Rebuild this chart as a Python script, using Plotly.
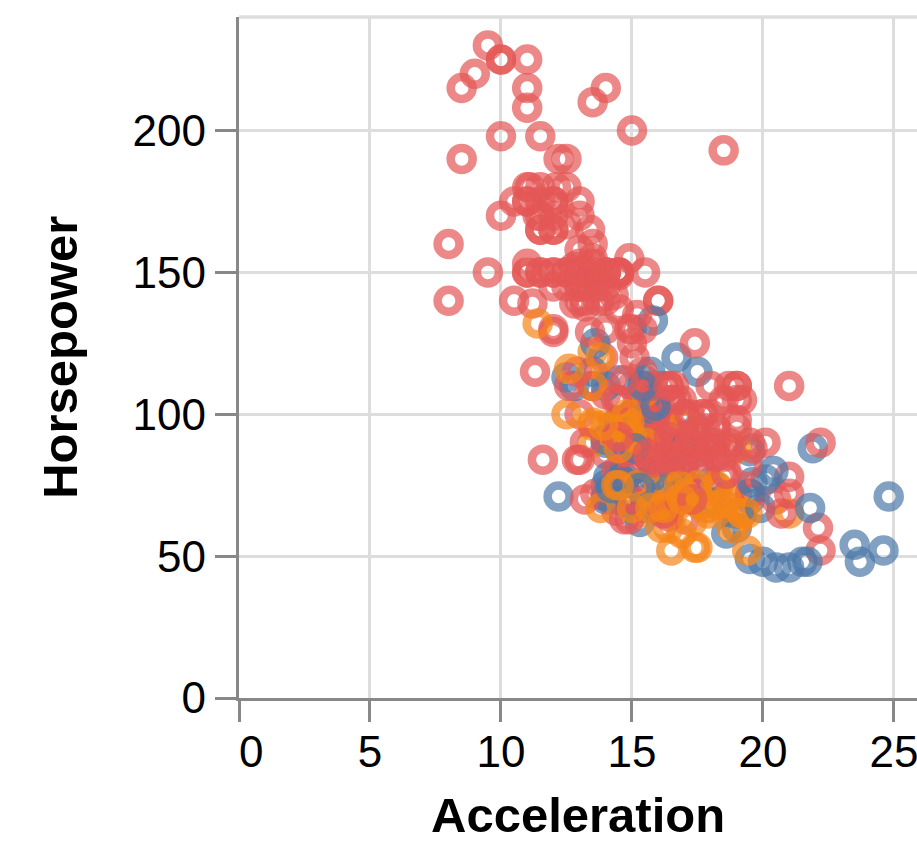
import plotly.graph_objects as go

U, E, J = "USA", "Europe", "Japan"

horsepower = [
    130, 165, 150, 150, 140, 198, 220, 215, 225, 190,
    115, 165, 153, 175, 175, 170, 160, 140, 150, 225,
    95, 95, 97, 85, 88, 46, 87, 90, 95, 113,
    90, 215, 200, 210, 193, 88, 90, 95, 100, 105,
    100, 88, 100, 165, 175, 153, 150, 180, 170, 175,
    110, 72, 100, 88, 86, 90, 70, 76, 65, 69,
    60, 70, 48, 95, 80, 54, 90, 86, 165, 175,
    150, 153, 150, 208, 155, 160, 190, 97, 150, 130,
    140, 150, 112, 76, 87, 69, 86, 92, 97, 80,
    88, 175, 150, 145, 137, 150, 198, 150, 158, 150,
    215, 225, 175, 105, 100, 100, 88, 95, 46, 150,
    167, 170, 180, 100, 88, 72, 94, 90, 85, 107,
    90, 145, 230, 49, 75, 91, 112, 150, 110, 122,
    180, 95, 100, 100, 67, 80, 65, 75, 100, 110,
    105, 140, 150, 150, 140, 150, 83, 67, 78, 52,
    61, 75, 75, 75, 97, 93, 67, 95, 105, 72,
    72, 170, 145, 150, 148, 110, 105, 110, 95, 110,
    110, 129, 75, 83, 100, 78, 96, 71, 97, 97,
    70, 90, 95, 88, 98, 115, 53, 86, 81, 92,
    79, 83, 140, 150, 120, 152, 100, 105, 81, 90,
    52, 60, 70, 53, 100, 78, 110, 95, 71, 70,
    75, 72, 102, 150, 88, 108, 120, 180, 145, 130,
    150, 68, 80, 58, 96, 70, 145, 110, 145, 130,
    110, 105, 100, 98, 180, 170, 190, 149, 78, 88,
    75, 89, 63, 83, 67, 78, 97, 110, 110, 48,
    66, 52, 70, 60, 110, 140, 139, 105, 95, 85,
    88, 100, 90, 105, 85, 110, 120, 145, 165, 139,
    140, 68, 95, 97, 75, 95, 105, 85, 97, 103,
    125, 115, 133, 71, 68, 115, 85, 88, 90, 110,
    130, 129, 138, 135, 155, 142, 125, 150, 71, 65,
    80, 80, 77, 125, 71, 90, 70, 70, 65, 69,
    90, 115, 115, 90, 76, 60, 70, 65, 90, 88,
    90, 90, 78, 90, 75, 92, 75, 65, 105, 65,
    48, 48, 67, 67, 67, 67, 62, 132, 100, 88,
    72, 84, 84, 92, 110, 84, 58, 64, 60, 67,
    65, 62, 68, 63, 65, 65, 74, 75, 75, 100,
    74, 80, 76, 116, 120, 110, 105, 88, 85, 110,
    88, 88, 88, 85, 84, 90, 92, 74, 68, 68,
    63, 70, 88, 75, 70, 67, 67, 67, 110, 85,
    92, 112, 96, 84, 90, 86, 52, 84, 79, 82,
]

acceleration = [
    12.0, 11.5, 11.0, 12.0, 10.5, 10.0, 9.0, 8.5, 10.0, 8.5,
    17.5, 11.5, 11.0, 10.5, 11.0, 10.0, 8.0, 8.0, 9.5, 10.0,
    15.0, 15.5, 15.5, 16.0, 14.5, 20.5, 17.5, 14.5, 17.5, 12.5,
    15.0, 14.0, 15.0, 13.5, 18.5, 14.5, 15.5, 14.0, 13.0, 15.5,
    15.5, 15.5, 15.5, 12.0, 11.5, 13.5, 13.0, 11.5, 12.0, 12.0,
    13.5, 19.0, 15.0, 14.5, 14.0, 14.0, 19.5, 14.5, 19.0, 18.0,
    19.0, 20.5, 20.0, 15.5, 17.0, 23.5, 19.5, 16.5, 12.0, 12.0,
    13.5, 13.0, 11.5, 11.0, 13.5, 13.5, 12.5, 13.5, 12.5, 14.0,
    16.0, 14.0, 14.5, 18.0, 19.5, 18.0, 16.0, 17.0, 14.5, 15.0,
    16.5, 13.0, 11.5, 13.0, 14.5, 12.5, 11.5, 12.0, 13.0, 14.5,
    11.0, 11.0, 11.0, 16.5, 18.0, 16.0, 16.5, 16.0, 21.0, 14.0,
    12.5, 13.0, 12.5, 15.0, 19.0, 19.5, 16.5, 13.5, 18.5, 14.0,
    15.5, 13.0, 9.5, 19.5, 15.5, 14.0, 15.5, 11.0, 14.0, 13.5,
    11.0, 16.5, 16.0, 17.0, 19.0, 16.5, 21.0, 17.0, 17.0, 18.0,
    16.5, 14.0, 14.5, 13.5, 16.0, 15.5, 16.5, 15.5, 14.5, 16.5,
    19.0, 14.5, 15.5, 14.0, 15.0, 15.5, 16.0, 16.0, 16.0, 21.0,
    19.5, 11.5, 14.0, 14.5, 13.5, 21.0, 18.5, 19.0, 19.0, 15.0,
    13.5, 12.0, 16.0, 17.0, 16.0, 18.5, 13.5, 16.5, 17.0, 14.5,
    14.0, 17.0, 15.0, 17.0, 14.5, 13.5, 17.5, 15.5, 16.9, 14.9,
    17.7, 15.3, 13.0, 13.0, 13.9, 12.8, 15.4, 14.5, 17.6, 17.6,
    22.2, 22.1, 14.2, 17.4, 17.7, 21.0, 16.2, 17.8, 12.2, 17.0,
    16.4, 13.6, 15.7, 13.2, 21.9, 15.5, 16.7, 12.1, 12.0, 15.0,
    14.0, 18.5, 14.8, 18.6, 15.5, 16.8, 12.5, 19.0, 13.7, 14.9,
    16.4, 16.9, 17.7, 19.0, 11.1, 11.4, 12.2, 14.5, 14.5, 16.0,
    18.2, 15.8, 17.0, 15.9, 16.4, 14.1, 14.5, 12.8, 13.5, 21.5,
    14.4, 19.4, 18.6, 16.4, 15.5, 13.2, 12.8, 19.2, 18.2, 15.8,
    15.4, 17.2, 17.2, 15.8, 16.7, 18.7, 15.1, 13.2, 13.4, 11.2,
    13.7, 16.5, 14.2, 14.7, 14.5, 14.8, 16.7, 17.6, 14.9, 15.9,
    13.6, 15.7, 15.8, 14.9, 16.6, 15.4, 18.2, 17.3, 18.2, 16.6,
    15.4, 13.4, 13.2, 15.2, 14.9, 14.3, 15.0, 13.0, 14.0, 15.2,
    14.4, 15.0, 20.1, 17.4, 24.8, 22.2, 13.2, 14.9, 19.2, 14.7,
    16.0, 11.3, 12.9, 13.2, 14.7, 18.8, 15.5, 16.4, 16.5, 18.1,
    20.1, 18.7, 15.8, 15.5, 17.5, 15.0, 15.2, 17.9, 14.4, 19.2,
    21.7, 23.7, 19.9, 21.8, 13.8, 18.0, 15.3, 11.4, 12.5, 15.1,
    17.0, 15.7, 16.4, 14.4, 12.6, 12.9, 16.9, 16.4, 16.1, 17.8,
    19.4, 17.3, 16.0, 14.9, 16.2, 20.7, 14.2, 14.4, 16.8, 14.8,
    18.3, 20.4, 19.6, 12.6, 13.8, 15.8, 19.0, 17.1, 16.6, 15.4,
    19.6, 18.6, 18.0, 16.2, 16.0, 18.0, 16.4, 15.3, 18.2, 17.6,
    14.7, 17.3, 14.5, 14.5, 16.9, 15.0, 15.7, 16.2, 16.4, 17.0,
    14.5, 14.7, 13.9, 13.0, 17.3, 15.6, 24.6, 11.6, 18.6, 19.4,
]

origin = [
    U, U, U, U, U, U, U, U, U, U,
    E, U, U, U, U, U, U, U, U, U,
    J, U, U, U, J, E, E, E, E, E,
    U, U, U, U, U, J, U, J, U, U,
    U, U, U, U, U, U, U, U, U, U,
    U, U, U, U, U, E, E, E, J, J,
    E, U, E, J, U, E, U, U, U, U,
    U, U, U, U, U, U, U, J, U, U,
    U, U, E, E, E, E, U, J, J, U,
    J, U, U, U, U, U, U, U, U, U,
    U, U, U, U, U, U, U, U, E, U,
    U, U, U, U, J, U, J, J, U, U,
    E, U, U, E, E, E, E, U, E, J,
    U, U, U, U, J, U, J, U, U, U,
    U, U, U, U, U, U, E, E, E, J,
    J, U, E, E, J, J, E, U, U, U,
    U, U, U, U, U, U, U, U, U, U,
    U, U, J, U, U, U, J, E, J, U,
    E, U, E, E, E, E, J, E, E, U,
    U, E, U, U, U, U, U, U, U, U,
    U, U, E, J, U, U, U, U, E, J,
    J, U, E, U, E, J, E, U, U, U,
    U, J, U, E, U, J, U, U, U, U,
    U, U, U, U, U, U, U, U, E, U,
    J, U, U, U, J, E, J, E, J, E,
    U, J, J, J, U, U, U, U, U, U,
    U, U, U, U, U, U, U, U, U, U,
    U, U, J, J, U, J, U, U, J, E,
    E, E, E, E, J, U, U, U, U, U,
    U, U, U, U, U, U, U, U, E, J,
    U, U, E, U, E, U, U, U, J, E,
    U, U, U, U, E, J, U, J, U, U,
    U, U, E, J, J, J, J, J, U, J,
    E, E, E, E, J, J, E, J, J, E,
    J, U, U, U, U, U, J, U, J, J,
    J, J, J, U, U, U, E, J, J, J,
    J, E, E, J, J, U, U, U, U, E,
    U, U, U, U, U, U, U, E, J, J,
    U, U, J, J, J, J, J, J, U, U,
    U, U, J, U, U, U, E, U, U, U,
]

x_ticks = [0, 5, 10, 15, 20, 25]
x_ticktext = ["\u00a0\u00a00", "5", "10", "15", "20", "25"]
y_ticks = [0, 50, 100, 150, 200]

origin_colors = {"Europe": "#4c78a8", "Japan": "#f58518", "USA": "#e45756"}

FONT = "Liberation Sans, Arial, Helvetica, sans-serif"

fig = go.Figure(
    go.Scatter(
        x=acceleration,
        y=horsepower,
        mode="markers",
        marker=dict(
            symbol="circle-open",
            size=22,
            color=[origin_colors[o] for o in origin],
            opacity=0.7,
            line=dict(width=8.5),
        ),
        showlegend=False,
        hoverinfo="x+y",
    )
)

axis_common = dict(
    showgrid=True,
    gridcolor="#dddddd",
    gridwidth=3.4,
    showline=True,
    linecolor="#888888",
    linewidth=3.4,
    ticks="outside",
    ticklen=21,
    tickwidth=3.4,
    tickcolor="#888888",
    tickfont=dict(family=FONT, size=44, color="#000000"),
    zeroline=False,
    fixedrange=True,
    automargin=False,
)

fig.update_layout(
    width=917,
    height=849,
    margin=dict(l=239, r=0, t=17, b=151, pad=0),
    plot_bgcolor="white",
    paper_bgcolor="white",
    xaxis=dict(range=[0, 25.88], tickvals=x_ticks, ticktext=x_ticktext,
               ticklabelstandoff=-8, ticklabeloverflow="allow", **axis_common),
    yaxis=dict(range=[0, 240], tickvals=y_ticks, **axis_common),
    shapes=[
        dict(type="line", xref="paper", yref="paper", x0=0, x1=1, y0=1, y1=1,
             line=dict(color="#dddddd", width=3.4), layer="below"),
    ],
    annotations=[
        dict(text="<b>Acceleration</b>", xref="paper", yref="paper", x=0.5, y=-0.172,
             xanchor="center", yanchor="middle", showarrow=False,
             font=dict(family=FONT, size=49, color="#000000")),
        dict(text="<b>Horsepower</b>", xref="paper", yref="paper", x=-0.265, y=0.5,
             xanchor="center", yanchor="middle", showarrow=False, textangle=-90,
             font=dict(family=FONT, size=49, color="#000000")),
    ],
)

fig.write_html(
    "out.html",
    config={"displayModeBar": False},
    post_script="document.body.style.margin='0px';document.body.style.overflow='hidden';",
)
